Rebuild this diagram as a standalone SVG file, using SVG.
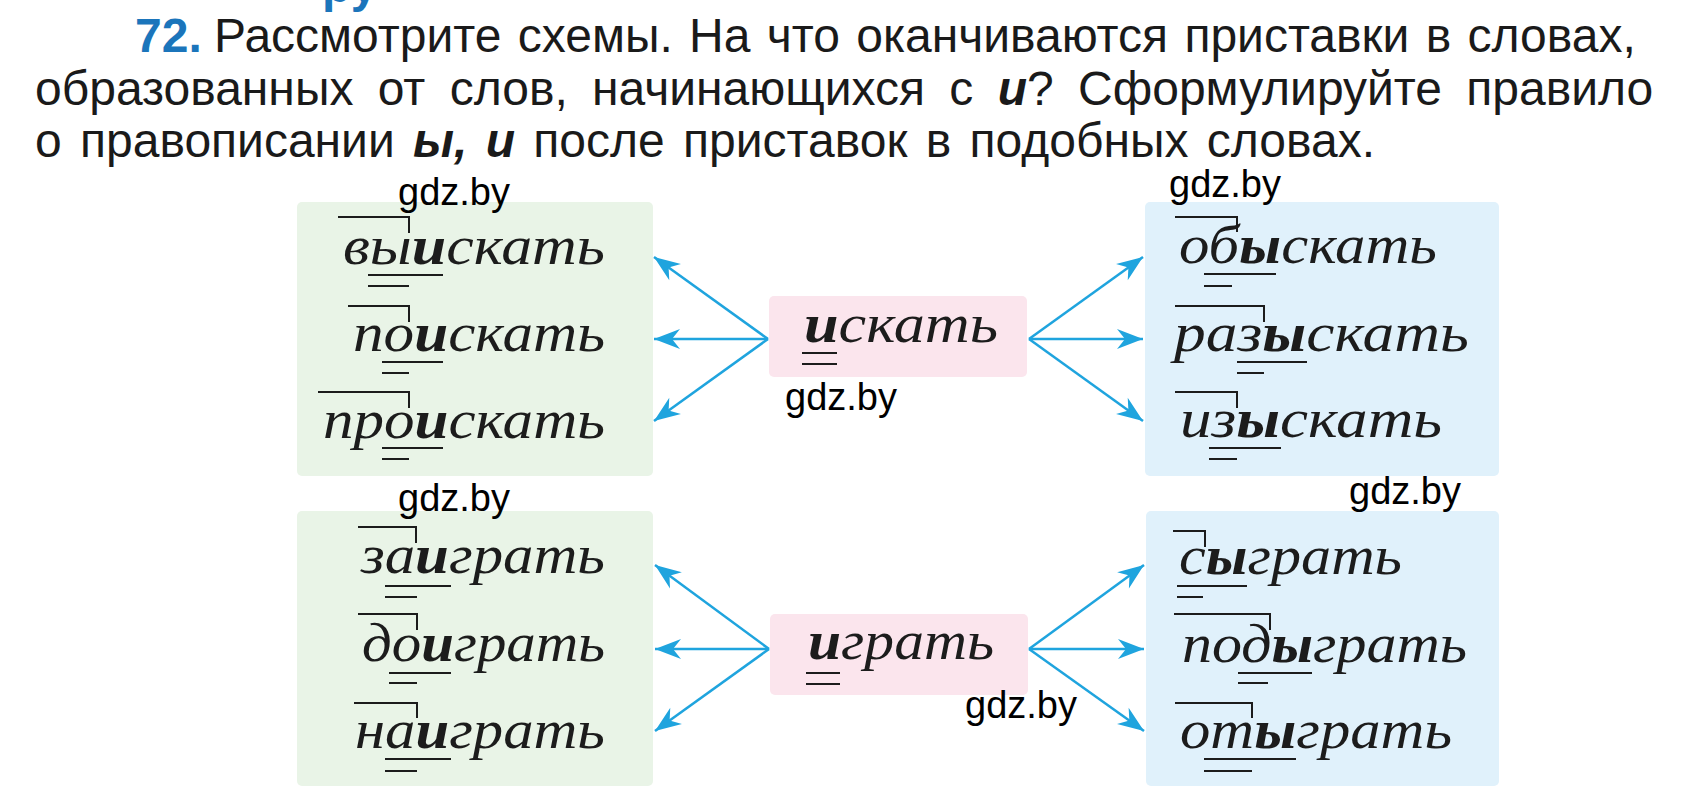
<svg xmlns="http://www.w3.org/2000/svg" width="1681" height="801" viewBox="0 0 1681 801">
  <defs>
    <style>
      .title { font-family: "Liberation Sans", Arial, sans-serif; font-size: 48px; fill: #1a1a1a; }
      .num { fill: #1b75bb; font-weight: bold; }
      .bi { font-weight: bold; font-style: italic; }
      .word { font-family: "Liberation Serif", "Times New Roman", serif; font-style: italic; font-size: 54px; fill: #1c1c1c; }
      .b { font-weight: bold; }
      .wm { font-family: "Liberation Sans", Arial, sans-serif; font-size: 38px; fill: #000; }
      .mark { stroke: #1c1c1c; stroke-width: 2; fill: none; }
      .green { fill: #e9f4e7; }
      .blue { fill: #e0f1fb; }
      .pink { fill: #fbe5ed; }
      .arrow { stroke: #1fa4de; stroke-width: 2.5; fill: none; marker-end: url(#ah); }
    </style>
    <marker id="ah" markerWidth="30" markerHeight="24" refX="0" refY="0" viewBox="-28 -12 30 24" orient="auto" markerUnits="userSpaceOnUse">
      <path d="M0,0 L-26,-10 L-18,0 L-26,10 Z" fill="#1fa4de"/>
    </marker>
  </defs>
  <rect width="1681" height="801" fill="#ffffff"/>

  <!-- cut heading fragment -->
  <text x="322" y="2" class="title" style="fill:#1b75bb;font-weight:bold">ру</text>

  <!-- task text -->
  <g id="task">
    <text class="title" x="135" y="52"><tspan class="num">72.</tspan><tspan x="214" style="word-spacing:3px">Рассмотрите схемы. На что оканчиваются приставки в словах,</tspan></text>
    <text class="title" x="35" y="105" style="word-spacing:11px">образованных от слов, начинающихся с <tspan class="bi">и</tspan>? Сформулируйте правило</text>
    <text class="title" x="35" y="157" style="word-spacing:5px">о правописании <tspan class="bi">ы, и</tspan> после приставок в подобных словах.</text>
  </g>

  <!-- boxes -->
  <g id="box-left-top"><rect class="green" x="297" y="202" width="356" height="274" rx="5"/></g>
  <g id="box-right-top"><rect class="blue" x="1145" y="202" width="354" height="274" rx="5"/></g>
  <g id="box-center-top"><rect class="pink" x="769" y="296" width="258" height="81" rx="5"/></g>
  <g id="box-left-bottom"><rect class="green" x="297" y="511" width="356" height="275" rx="5"/></g>
  <g id="box-right-bottom"><rect class="blue" x="1146" y="511" width="353" height="275" rx="5"/></g>
  <g id="box-center-bottom"><rect class="pink" x="770" y="614" width="258" height="81" rx="5"/></g>

  <!-- connectors -->
  <g id="connectors">
    <line class="arrow" x1="768" y1="339" x2="654" y2="257"/>
    <line class="arrow" x1="768" y1="339" x2="654" y2="339"/>
    <line class="arrow" x1="768" y1="339" x2="654" y2="421"/>
    <line class="arrow" x1="1029" y1="339" x2="1143" y2="257"/>
    <line class="arrow" x1="1029" y1="339" x2="1143" y2="339"/>
    <line class="arrow" x1="1029" y1="339" x2="1143" y2="421"/>
    <line class="arrow" x1="769" y1="649" x2="655" y2="565"/>
    <line class="arrow" x1="769" y1="649" x2="655" y2="649"/>
    <line class="arrow" x1="769" y1="649" x2="655" y2="731"/>
    <line class="arrow" x1="1029" y1="649" x2="1144" y2="565"/>
    <line class="arrow" x1="1029" y1="649" x2="1144" y2="649"/>
    <line class="arrow" x1="1029" y1="649" x2="1144" y2="731"/>
  </g>

  <!-- words: left top -->
  <g id="w-vyiskat">
    <text class="word" x="343" y="264" textLength="262" lengthAdjust="spacingAndGlyphs">вы<tspan class="b">и</tspan>скать</text>
    <path class="mark" d="M338,217 H409 V233 M368,275 H443 M368,286 H409"/>
  </g>
  <g id="w-poiskat">
    <text class="word" x="353" y="351" textLength="252" lengthAdjust="spacingAndGlyphs">по<tspan class="b">и</tspan>скать</text>
    <path class="mark" d="M348,306 H409 V322 M382,362 H443 M382,373 H409"/>
  </g>
  <g id="w-proiskat">
    <text class="word" x="323" y="438" textLength="282" lengthAdjust="spacingAndGlyphs">про<tspan class="b">и</tspan>скать</text>
    <path class="mark" d="M318,392 H409 V408 M382,448 H443 M382,459 H409"/>
  </g>

  <!-- words: right top -->
  <g id="w-obyskat">
    <text class="word" x="1179" y="263" textLength="258" lengthAdjust="spacingAndGlyphs">об<tspan class="b">ы</tspan>скать</text>
    <path class="mark" d="M1175,217 H1237 V232 M1204,274 H1276 M1204,286 H1232"/>
  </g>
  <g id="w-razyskat">
    <text class="word" x="1174" y="351" textLength="295" lengthAdjust="spacingAndGlyphs">раз<tspan class="b">ы</tspan>скать</text>
    <path class="mark" d="M1175,306 H1264 V322 M1237,362 H1307 M1237,373 H1264"/>
  </g>
  <g id="w-izyskat">
    <text class="word" x="1180" y="437" textLength="262" lengthAdjust="spacingAndGlyphs">из<tspan class="b">ы</tspan>скать</text>
    <path class="mark" d="M1175,392 H1237 V408 M1209,448 H1281 M1209,459 H1237"/>
  </g>

  <!-- center words -->
  <g id="w-iskat">
    <text class="word" x="804" y="342" textLength="194" lengthAdjust="spacingAndGlyphs"><tspan class="b">и</tspan>скать</text>
    <path class="mark" d="M802,353 H837 M802,364 H837"/>
  </g>
  <g id="w-igrat">
    <text class="word" x="808" y="659" textLength="186" lengthAdjust="spacingAndGlyphs"><tspan class="b">и</tspan>грать</text>
    <path class="mark" d="M806,673 H840 M806,684 H840"/>
  </g>

  <!-- words: left bottom -->
  <g id="w-zaigrat">
    <text class="word" x="361" y="573" textLength="244" lengthAdjust="spacingAndGlyphs">за<tspan class="b">и</tspan>грать</text>
    <path class="mark" d="M358,527 H416 V543 M385,586 H451 M385,597 H417"/>
  </g>
  <g id="w-doigrat">
    <text class="word" x="362" y="661" textLength="243" lengthAdjust="spacingAndGlyphs">до<tspan class="b">и</tspan>грать</text>
    <path class="mark" d="M358,614 H417 V630 M389,673 H451 M389,683 H417"/>
  </g>
  <g id="w-naigrat">
    <text class="word" x="355" y="748" textLength="250" lengthAdjust="spacingAndGlyphs">на<tspan class="b">и</tspan>грать</text>
    <path class="mark" d="M354,703 H417 V718 M385,759 H451 M385,771 H417"/>
  </g>

  <!-- words: right bottom -->
  <g id="w-sygrat">
    <text class="word" x="1179" y="574" textLength="223" lengthAdjust="spacingAndGlyphs">с<tspan class="b">ы</tspan>грать</text>
    <path class="mark" d="M1173,531 H1205 V547 M1177,586 H1247 M1177,597 H1203"/>
  </g>
  <g id="w-podygrat">
    <text class="word" x="1182" y="662" textLength="285" lengthAdjust="spacingAndGlyphs">под<tspan class="b">ы</tspan>грать</text>
    <path class="mark" d="M1174,614 H1270 V630 M1238,673 H1312 M1238,683 H1268"/>
  </g>
  <g id="w-otygrat">
    <text class="word" x="1180" y="748" textLength="272" lengthAdjust="spacingAndGlyphs">от<tspan class="b">ы</tspan>грать</text>
    <path class="mark" d="M1175,703 H1252 V718 M1204,759 H1296 M1204,771 H1252"/>
  </g>

  <!-- watermarks -->
  <g id="watermarks">
    <text class="wm" x="398" y="205">gdz.by</text>
    <text class="wm" x="1169" y="197">gdz.by</text>
    <text class="wm" x="785" y="410">gdz.by</text>
    <text class="wm" x="1349" y="504">gdz.by</text>
    <text class="wm" x="398" y="511">gdz.by</text>
    <text class="wm" x="965" y="718">gdz.by</text>
  </g>
</svg>
